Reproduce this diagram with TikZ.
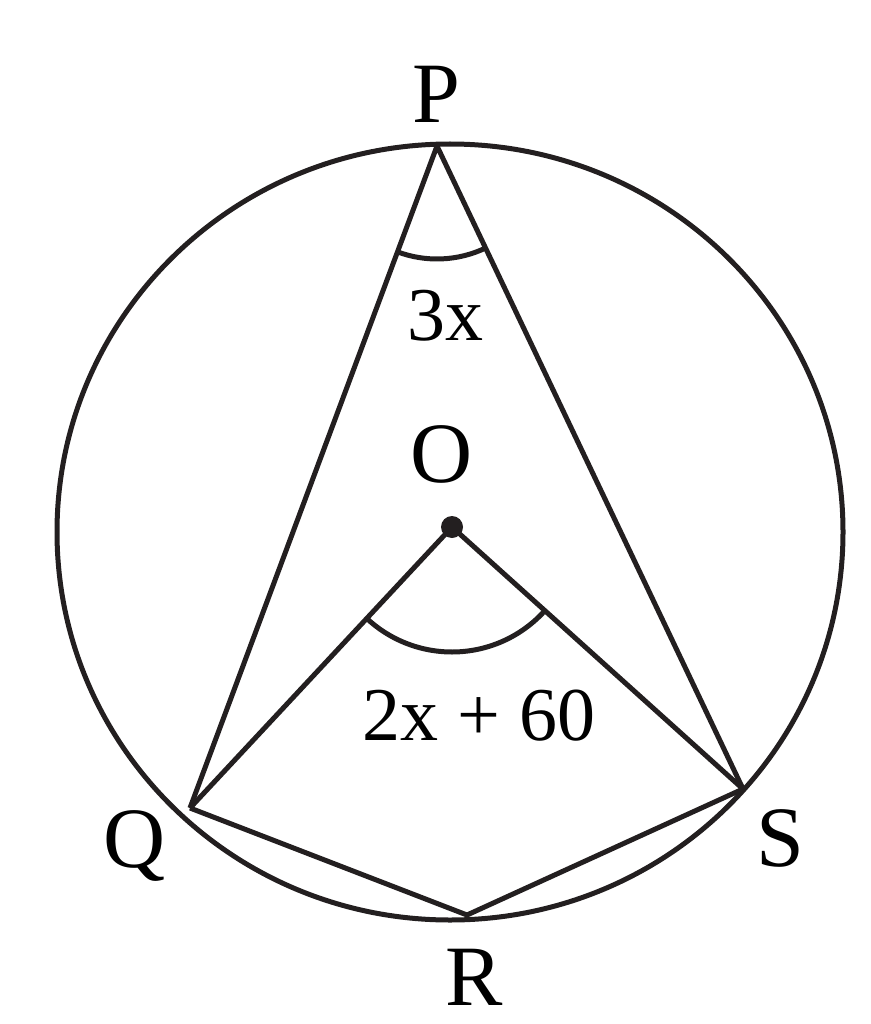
\documentclass[tikz,border=0pt]{standalone}
\usepackage{fontspec}
\setmainfont{Liberation Serif}
\usetikzlibrary{angles}
\definecolor{ink}{RGB}{35,31,32}
\begin{document}
\begin{tikzpicture}[x=1pt,y=-1pt,
  geo/.style={draw=ink,line width=5pt,line join=round},
  ptlabel/.style={anchor=base,inner sep=0pt,text=black,font=\fontsize{86}{90}\selectfont},
  anglabel/.style={anchor=base,inner sep=0pt,text=black,font=\fontsize{76}{80}\selectfont}]
\useasboundingbox (0,0) rectangle (870,1024);
\coordinate (C) at (450,532);
\coordinate (P) at (437,146);
\coordinate (Q) at (190,808);
\coordinate (R) at (467,915);
\coordinate (S) at (743,789);
\coordinate (O) at (452,527);
\draw[geo] (C) ellipse [x radius=393pt, y radius=388pt];
\draw[geo] (Q) -- (P) -- (S);
\draw[geo] (Q) -- (O) -- (S);
\draw[geo] (Q) -- (R) -- (S);
\pic[geo, angle radius=113pt] {angle = Q--P--S};
\pic[geo, angle radius=125pt] {angle = Q--O--S};
\fill[ink] (O) circle [radius=11pt];
\node[ptlabel] (lP) at (436,123) {P};
\node[ptlabel] (lO) at (442,482) {O};
\node[ptlabel] (lQ) at (135,867) {Q};
\node[ptlabel] (lR) at (474,1005) {R};
\node[ptlabel] (lS) at (780,866) {S};
\node[anglabel] (a1) at (445,340) {3x};
\node[anglabel] (a2) at (479,740) {2x + 60};
\end{tikzpicture}
\end{document}
